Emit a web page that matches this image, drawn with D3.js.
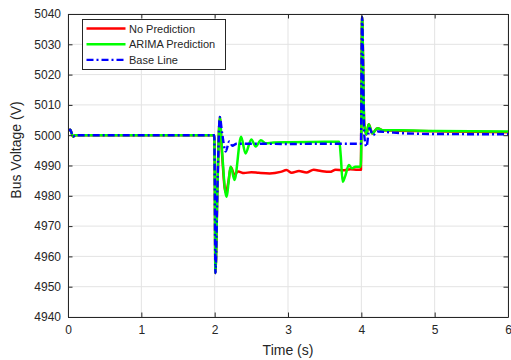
<!DOCTYPE html>
<html>
<head>
<meta charset="utf-8">
<script src="https://cdn.jsdelivr.net/npm/d3@7"></script>
<style>
    body { margin: 0; background: #fff; }
    text { font-family: "Liberation Sans", Arial, sans-serif; fill: #262626; }
</style>
</head>
<body>
<div id="chart"></div>
<script>
// time (s) / bus voltage (V)
const noPredT = [0, 0.03, 0.07, 0.1, 1.995, 2.0, 2.01, 2.04, 2.07, 2.1, 2.15, 2.19, 2.22, 2.27, 2.32, 2.4, 2.5, 2.6, 2.75, 2.9, 2.98, 3.05, 3.15, 3.25, 3.35, 3.45, 3.57, 3.65, 3.75, 3.85, 3.95, 3.995, 4.005, 4.01, 4.04, 4.07, 4.1, 4.15, 4.22, 4.3, 4.5, 5.0, 5.5, 6.0];
const noPredV = [5001.5, 5001.8, 4999.5, 5000, 5000, 4990, 4954.5, 4985, 5006, 4994, 4981, 4985, 4989.5, 4987, 4988, 4987.5, 4987.8, 4987.6, 4987.4, 4987.9, 4988.5, 4987.6, 4988.2, 4987.7, 4988.6, 4988.2, 4987.9, 4988.6, 4988.4, 4988.8, 4988.6, 4988.6, 5030, 5039, 5003.5, 5000.2, 5003.6, 5000.6, 5002.3, 5001.6, 5001.5, 5001.3, 5001.1, 5001];

const arimaT = [0, 0.03, 0.07, 0.1, 1.995, 2.0, 2.01, 2.04, 2.07, 2.1, 2.16, 2.22, 2.27, 2.36, 2.42, 2.5, 2.56, 2.63, 2.7, 2.8, 3.0, 3.5, 3.7, 3.72, 3.745, 3.78, 3.83, 3.87, 3.92, 3.99, 4.0, 4.01, 4.04, 4.07, 4.1, 4.15, 4.22, 4.3, 4.5, 5.0, 6.0];
const arimaV = [5001.5, 5001.8, 4999.5, 5000, 5000, 4990, 4954.5, 4985, 5006, 4995, 4979.7, 4989.6, 4985.2, 4999.5, 4994, 4998.6, 4996.3, 4998.3, 4997.3, 4997.6, 4997.7, 4997.8, 4997.8, 4993, 4984.6, 4986.5, 4990.2, 4989.1, 4989.6, 4989.6, 4997.5, 5039, 5003.5, 5000.2, 5003.6, 5000.6, 5002.3, 5001.6, 5001.6, 5001.4, 5001.2];

const baseT = [0, 0.03, 0.07, 0.1, 1.995, 2.0, 2.01, 2.04, 2.07, 2.1, 2.15, 2.2, 2.24, 2.3, 2.5, 3.0, 3.5, 3.995, 4.005, 4.01, 4.04, 4.07, 4.11, 4.16, 4.22, 4.35, 4.6, 5.0, 6.0];
const baseV = [5001.5, 5001.8, 4999.5, 5000, 5000, 4990, 4954.5, 4985, 5006, 5001, 4994.6, 4997.9, 4996.5, 4997.2, 4997.2, 4997.1, 4997.2, 4997.2, 5030, 5039, 5000, 4996.2, 5002.3, 5000, 5001.2, 5001, 5000.6, 5000.4, 5000.3];

const seriesNames = ['No Prediction', 'ARIMA Prediction', 'Base Line'];
const xTicks = [0, 1, 2, 3, 4, 5, 6];
const yTicks = [4940, 4950, 4960, 4970, 4980, 4990, 5000, 5010, 5020, 5030, 5040];

const width = 511, height = 360;
const margin = { left: 68, right: 3, top: 14, bottom: 43 };

const svg = d3.select('#chart').append('svg')
    .attr('width', width)
    .attr('height', height);

const x = d3.scaleLinear().domain([0, 6]).range([margin.left, width - margin.right]);
const y = d3.scaleLinear().domain([4940, 5040]).range([height - margin.bottom, margin.top]);

// grid
const grid = svg.append('g').attr('stroke', '#e3e3e3').attr('stroke-width', 1);
grid.selectAll('.gx').data(xTicks).enter().append('line')
    .attr('x1', d => x(d)).attr('x2', d => x(d))
    .attr('y1', y(4940)).attr('y2', y(5040));
grid.selectAll('.gy').data(yTicks).enter().append('line')
    .attr('x1', x(0)).attr('x2', x(6))
    .attr('y1', d => y(d)).attr('y2', d => y(d));

const series = [
    { name: seriesNames[0], t: noPredT, v: noPredV, color: '#ff0000', w: 2.5, dash: null },
    { name: seriesNames[1], t: arimaT, v: arimaV, color: '#00ff00', w: 2.5, dash: null },
    { name: seriesNames[2], t: baseT, v: baseV, color: '#0000ff', w: 2.4, dash: '7,3,2,3' }
];

const line = d3.line().curve(d3.curveMonotoneX).x(d => x(d[0])).y(d => y(d[1]));
svg.append('clipPath').attr('id', 'clip').append('rect')
    .attr('x', x(0)).attr('y', y(5040)).attr('width', x(6) - x(0)).attr('height', y(4940) - y(5040));

svg.append('g').attr('clip-path', 'url(#clip)')
    .selectAll('path').data(series).enter().append('path')
    .attr('d', s => line(s.t.map((t, i) => [t, s.v[i]])))
    .attr('fill', 'none')
    .attr('stroke', s => s.color)
    .attr('stroke-width', s => s.w)
    .attr('stroke-dasharray', s => s.dash)
    .attr('stroke-linejoin', 'round');

// axes (MATLAB style: box, inward ticks)
const axisColor = '#262626';
const tickLen = 4.5;
const fmt = d3.format('d');
const xBottom = d3.axisBottom(x).tickValues(xTicks).tickFormat(fmt).tickSizeInner(-tickLen).tickSizeOuter(0).tickPadding(8);
const xTop = d3.axisTop(x).tickValues(xTicks).tickSizeInner(-tickLen).tickSizeOuter(0).tickFormat('');
const yLeft = d3.axisLeft(y).tickValues(yTicks).tickFormat(fmt).tickSizeInner(-tickLen).tickSizeOuter(0).tickPadding(7);
const yRight = d3.axisRight(y).tickValues(yTicks).tickSizeInner(-tickLen).tickSizeOuter(0).tickFormat('');

const styleAxis = g => {
    g.select('.domain').attr('stroke', axisColor).attr('stroke-width', 1);
    g.selectAll('.tick line').attr('stroke', axisColor);
    g.selectAll('.tick text').attr('fill', axisColor).style('font-size', '12px')
        .style('font-family', '"Liberation Sans", Arial, sans-serif');
};

svg.append('g').attr('transform', `translate(0,${y(4940)})`).call(xBottom).call(styleAxis);
svg.append('g').attr('transform', `translate(0,${y(5040)})`).call(xTop).call(styleAxis);
svg.append('g').attr('transform', `translate(${x(0)},0)`).call(yLeft).call(styleAxis);
svg.append('g').attr('transform', `translate(${x(6)},0)`).call(yRight).call(styleAxis);

// axis labels
svg.append('text')
    .attr('x', (x(0) + x(6)) / 2)
    .attr('y', 355)
    .attr('text-anchor', 'middle')
    .style('font-size', '14px')
    .text('Time (s)');

svg.append('text')
    .attr('transform', `translate(21,${150}) rotate(-90)`)
    .attr('text-anchor', 'middle')
    .style('font-size', '14px')
    .text('Bus Voltage (V)');

// legend
const legend = svg.append('g').attr('transform', 'translate(82.5,19.5)');
legend.append('rect')
    .attr('width', 143).attr('height', 50)
    .attr('fill', '#fff').attr('stroke', axisColor).attr('stroke-width', 1);

const item = legend.selectAll('.item').data(series).enter().append('g')
    .attr('transform', (d, i) => `translate(0,${9 + i * 15.7})`);
item.append('line')
    .attr('x1', 4).attr('x2', 43)
    .attr('stroke', d => d.color)
    .attr('stroke-width', d => d.w)
    .attr('stroke-dasharray', d => d.dash);
item.append('text')
    .attr('x', 46.5).attr('y', 4)
    .style('font-size', '11px')
    .text(d => d.name);
</script>
</body>
</html>
